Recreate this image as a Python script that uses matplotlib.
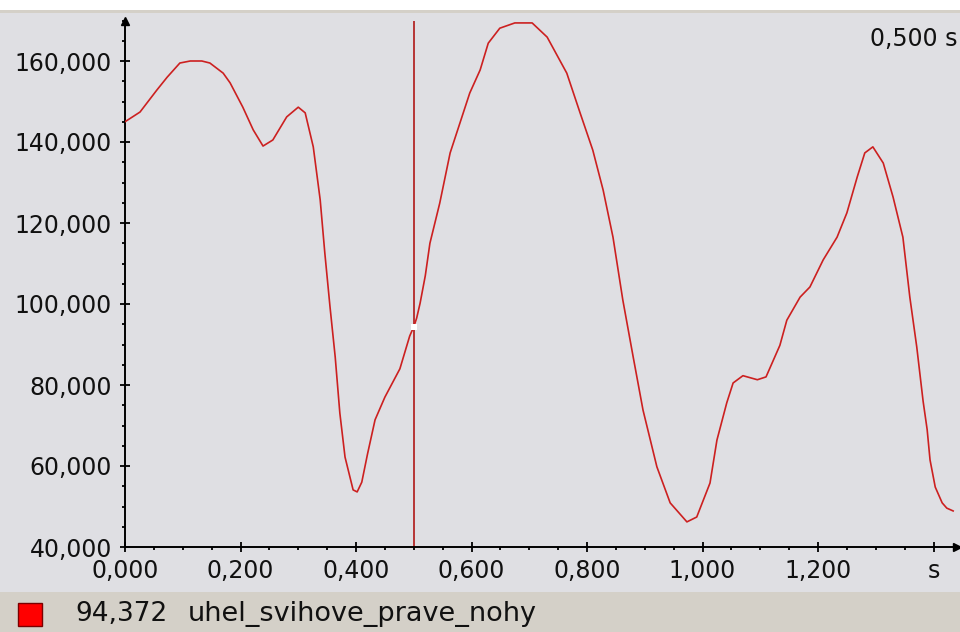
"""Joint angle trace with cursor readout (uhel_svihove_prave_nohy)."""

import matplotlib
matplotlib.use("Agg")
import matplotlib.pyplot as plt
from matplotlib.patches import Rectangle
from matplotlib.ticker import FuncFormatter, MultipleLocator

# time in seconds, angle values (thousands)
time_s = [
    0.000, 0.026, 0.055, 0.073, 0.095, 0.113, 0.133, 0.147, 0.170, 0.182,
    0.204, 0.222, 0.239, 0.256, 0.280, 0.300, 0.312, 0.326, 0.338, 0.346,
    0.355, 0.364, 0.372, 0.381, 0.395, 0.402, 0.410, 0.420, 0.433, 0.450,
    0.476, 0.493, 0.500, 0.505, 0.511, 0.520, 0.528, 0.545, 0.563, 0.580,
    0.597, 0.615, 0.629, 0.649, 0.675, 0.705, 0.731, 0.765, 0.788, 0.810,
    0.828, 0.845, 0.862, 0.880, 0.897, 0.921, 0.944, 0.973, 0.990, 1.013,
    1.025, 1.042, 1.053, 1.070, 1.095, 1.110, 1.134, 1.146, 1.169, 1.186,
    1.209, 1.233, 1.250, 1.268, 1.281, 1.295, 1.313, 1.330, 1.347, 1.359,
    1.371, 1.382, 1.389, 1.394, 1.403, 1.415, 1.423, 1.434,
]
angle = [
    145.0, 147.4, 152.8, 156.0, 159.5, 160.0, 160.0, 159.5, 157.0, 154.6,
    148.6, 143.0, 139.0, 140.5, 146.2, 148.6, 147.2, 138.8, 125.7, 112.6,
    99.3, 86.9, 73.1, 62.2, 54.1, 53.6, 56.0, 63.0, 71.4, 77.0,
    84.0, 92.1, 94.372, 96.5, 100.2, 107.0, 115.0, 124.9, 137.3, 144.7,
    152.1, 157.8, 164.4, 168.1, 169.4, 169.4, 165.9, 157.0, 147.2, 138.0,
    128.1, 116.5, 101.0, 86.9, 73.8, 59.8, 50.9, 46.2, 47.4, 55.8,
    66.4, 75.6, 80.5, 82.3, 81.3, 82.0, 89.8, 96.0, 101.7, 104.2,
    110.9, 116.5, 122.5, 131.4, 137.3, 138.8, 134.8, 126.4, 116.5, 101.7,
    89.4, 76.0, 69.0, 61.5, 54.8, 50.9, 49.6, 48.9,
]
angle = [v * 1000 for v in angle]

cursor_t = 0.500
cursor_value = 94372
series_name = "uhel_svihove_prave_nohy"

BG = "#dfdfe3"
PANEL = "#d4d0c8"
LINE = "#cc2020"
FONT = 17

plt.rcParams["font.family"] = ["DejaVu Sans"]

fig = plt.figure(figsize=(9.6, 6.32), dpi=100)
fig.patch.set_facecolor(BG)

# white strip at top, thin panel border, status bar at bottom
fig.add_artist(Rectangle((0, 1 - 10 / 632), 1, 10 / 632, transform=fig.transFigure,
                         facecolor="white", edgecolor="none"))
fig.add_artist(Rectangle((0, 1 - 13 / 632), 1, 3 / 632, transform=fig.transFigure,
                         facecolor=PANEL, edgecolor="none"))
fig.add_artist(Rectangle((0, 0), 1, 40 / 632, transform=fig.transFigure,
                         facecolor=PANEL, edgecolor="none"))

ax = fig.add_axes([125 / 960, 85 / 632, 831.6 / 960, 526.5 / 632])
ax.patch.set_alpha(0)

ax.plot(time_s, angle, color=LINE, linewidth=1.2, zorder=3)
ax.axvline(cursor_t, color="#b01818", linewidth=1.2, zorder=2)
ax.plot([cursor_t], [cursor_value], marker="s", markersize=4, color="white",
        markeredgewidth=0, linestyle="none", zorder=4)

ax.set_xlim(0, 1.44)
ax.set_ylim(40000, 170000)

for side in ("top", "right"):
    ax.spines[side].set_visible(False)
for side in ("left", "bottom"):
    ax.spines[side].set_color("black")
    ax.spines[side].set_linewidth(1.4)

# axis arrows
ax.plot(1, 0, marker=">", color="black", markersize=6, transform=ax.transAxes, clip_on=False)
ax.plot(0, 1, marker="^", color="black", markersize=6, transform=ax.transAxes, clip_on=False)

ax.xaxis.set_major_locator(MultipleLocator(0.2))
ax.xaxis.set_minor_locator(MultipleLocator(0.05))
ax.yaxis.set_major_locator(MultipleLocator(20000))
ax.yaxis.set_minor_locator(MultipleLocator(5000))


def fmt_x(v, _):
    if abs(v - 1.4) < 1e-6:
        return "s"
    return f"{v:.3f}".replace(".", ",")


def fmt_y(v, _):
    return f"{int(round(v / 1000))},000"


ax.xaxis.set_major_formatter(FuncFormatter(fmt_x))
ax.yaxis.set_major_formatter(FuncFormatter(fmt_y))
ax.tick_params(which="major", direction="inout", length=7, width=1.3, labelsize=FONT,
               colors="black", labelcolor="#111111")
ax.tick_params(axis="y", which="major", pad=6)
ax.tick_params(axis="x", which="major", pad=5)
ax.tick_params(which="minor", direction="out", length=2.5, width=1.3, colors="black")

fig.text(958 / 960, 1 - 39 / 632, "0,500 s", ha="right", va="center", fontsize=FONT,
         color="#111111")

# status bar legend
fig.add_artist(Rectangle((18 / 960, 1 - 626 / 632), 24 / 960, 23 / 632, transform=fig.transFigure,
                         facecolor="#ff0000", edgecolor="#7a0000", linewidth=1))
fig.text(75 / 960, 1 - 614 / 632, f"{cursor_value / 1000:.3f}".replace(".", ","),
         ha="left", va="center", fontsize=19, color="#111111")
fig.text(188 / 960, 1 - 614 / 632, series_name,
         ha="left", va="center", fontsize=19.5, color="#111111")

fig.savefig("out.png", dpi=100, facecolor=fig.get_facecolor())
